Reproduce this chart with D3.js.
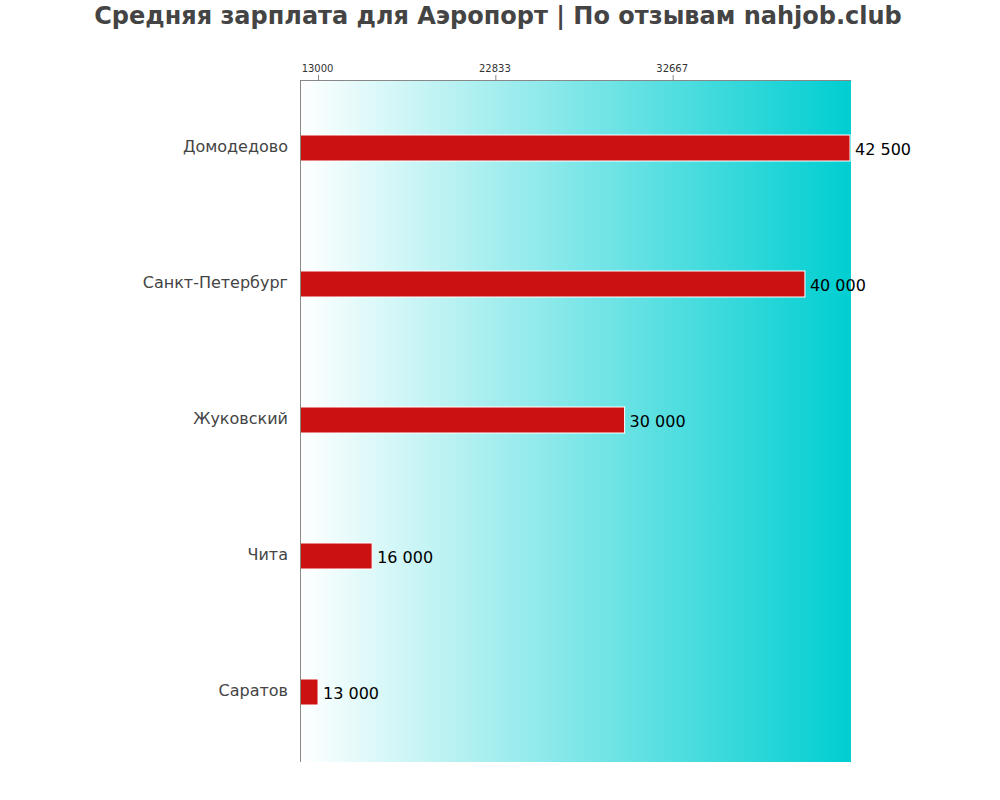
<!DOCTYPE html>
<html><head><meta charset="utf-8">
<script src="https://cdn.jsdelivr.net/npm/d3@7"></script>
<style>body{margin:0;background:#fff;} svg text{font-family:"DejaVu Sans",sans-serif;}</style>
</head><body>
<svg id="c" width="1000" height="800"></svg>
<script>
const categories = ["Домодедово","Санкт-Петербург","Жуковский","Чита","Саратов"];
const values = [42500, 40000, 30000, 16000, 13000];
const valueLabels = ["42 500","40 000","30 000","16 000","13 000"];
const tickValues = [13000, 22833, 32667];
const domainX = [12000, 42500];

const svg = d3.select("#c");
const m = {left:300, right:850, top:80, bottom:760};
const x = d3.scaleLinear().domain(domainX).range([m.left, m.right]);
const y = d3.scaleBand().domain(categories).range([m.top, m.bottom]);

const defs = svg.append("defs");
const g = defs.append("linearGradient").attr("id","bg").attr("x1","0").attr("x2","1").attr("y1","0").attr("y2","0");
g.append("stop").attr("offset","0").attr("stop-color","#ffffff");
g.append("stop").attr("offset","1").attr("stop-color","#00ced1");

svg.append("rect").attr("x",m.left).attr("y",m.top).attr("width",m.right-m.left+1).attr("height",m.bottom-m.top+2).attr("fill","url(#bg)");

svg.append("text").attr("x",498).attr("y",24).attr("text-anchor","middle")
  .attr("font-size",24).attr("font-weight","bold").attr("fill","#444").text("Средняя зарплата для Аэропорт | По отзывам nahjob.club");

const bh = 26;
svg.selectAll("rect.bar").data(values).join("rect").attr("class","bar")
  .attr("x", x(domainX[0])).attr("y",(d,i)=>y(categories[i])+y.bandwidth()/2-bh/2)
  .attr("width", d=>x(d)-x(domainX[0])).attr("height",bh)
  .attr("fill","#cc1111").attr("stroke","#fff").attr("stroke-width",1);

svg.selectAll("text.val").data(values).join("text").attr("class","val")
  .attr("x", d=>x(d)+5).attr("y",(d,i)=>y(categories[i])+y.bandwidth()/2+7)
  .attr("font-size",16).attr("fill","#000").text((d,i)=>valueLabels[i]);

svg.selectAll("text.cat").data(categories).join("text").attr("class","cat")
  .attr("x", m.left-12).attr("y",d=>y(d)+y.bandwidth()/2+4)
  .attr("text-anchor","end").attr("font-size",16).attr("fill","#444").text(d=>d);

const ax = svg.append("g").attr("transform",`translate(0,${m.top})`)
  .call(d3.axisTop(x).tickValues(tickValues).tickFormat(d3.format("d")).tickSize(5).tickSizeOuter(0));
ax.select(".domain").attr("stroke","#888");
ax.selectAll(".tick line").attr("stroke","#888");
ax.selectAll(".tick text").attr("font-size",10).attr("fill","#333").attr("dx","-1");

svg.append("line").attr("x1",m.left+0.5).attr("x2",m.left+0.5).attr("y1",m.top).attr("y2",m.bottom+2).attr("stroke","#888");
</script>
</body></html>
